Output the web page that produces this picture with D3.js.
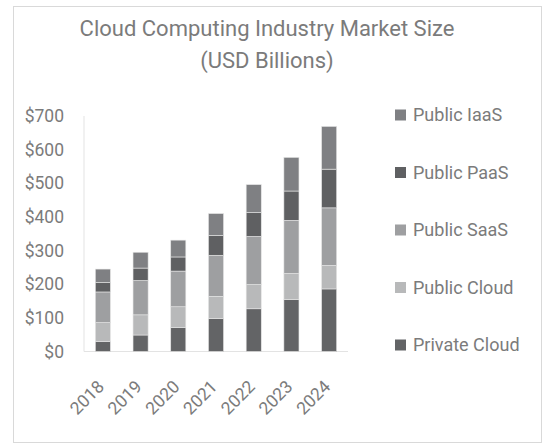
<!DOCTYPE html>
<html><head><meta charset="utf-8">
<script src="https://cdn.jsdelivr.net/npm/d3@7"></script>
<style>body{margin:0;background:#fff;}svg{display:block;font-family:Roboto,"Open Sans",sans-serif;}</style>
</head><body>
<svg id="c" width="543" height="445"></svg>
<script>
const years = ["2018","2019","2020","2021","2022","2023","2024"];
const seriesNames = ["Private Cloud","Public Cloud","Public SaaS","Public PaaS","Public IaaS"];
const privateCloud = [30, 49, 71, 98, 127, 155, 186];
const publicCloud  = [56, 60, 62, 66, 72, 77, 70];
const publicSaaS   = [91, 102, 106, 122, 143, 158, 171];
const publicPaaS   = [28, 37, 42, 59, 71, 87, 115];
const publicIaaS   = [40, 47, 50, 65, 83, 100, 127];
const yTicks = [0,100,200,300,400,500,600,700];
const colors = ["#636466","#b8b9ba","#9e9fa1","#5f6062","#7f8083"];

const seriesValues = [privateCloud, publicCloud, publicSaaS, publicPaaS, publicIaaS];
const rows = years.map((y,i)=>{const r={year:y};seriesNames.forEach((s,j)=>r[s]=seriesValues[j][i]);return r;});
const stacked = d3.stack().keys(seriesNames)(rows);

const svg = d3.select("#c");
const textColor = "#7b7b7b";
svg.append("rect").attr("x",13.5).attr("y",6.5).attr("width",528).attr("height",436)
  .attr("fill","#fff").attr("stroke","#d9d9d9").attr("stroke-width",1);

const x = d3.scaleBand().domain(years).range([84,348]).paddingInner(0.6).paddingOuter(0.3);
const y = d3.scaleLinear().domain([0,700]).range([351.5,116]);

// axis lines
svg.append("line").attr("x1",84).attr("x2",84).attr("y1",y(700)).attr("y2",y(0)).attr("stroke","#e3e3e3");
svg.append("line").attr("x1",84).attr("x2",348).attr("y1",y(0)).attr("y2",y(0)).attr("stroke","#e3e3e3");

const yAxis = svg.append("g").attr("transform","translate(84,0)")
  .call(d3.axisLeft(y).tickValues(yTicks).tickFormat(d=>"$"+d).tickSize(0).tickPadding(20));
yAxis.select(".domain").remove();
yAxis.selectAll("text").attr("fill",textColor).style("font-size","17.5px").style("font-family","Roboto, sans-serif");

const xAxis = svg.append("g").attr("transform",`translate(0,${y(0)})`)
  .call(d3.axisBottom(x).tickSize(0).tickPadding(0));
xAxis.select(".domain").remove();
xAxis.selectAll("text").attr("fill",textColor).style("font-size","17.5px").style("font-family","Roboto, sans-serif")
  .attr("text-anchor","end").attr("dy","0.35em")
  .attr("transform","translate(-2,32) rotate(-45)");

svg.append("g").selectAll("g").data(stacked).join("g")
  .attr("fill",(d,i)=>colors[i])
  .selectAll("rect").data(d=>d).join("rect")
  .attr("x",d=>x(d.data.year)).attr("width",x.bandwidth())
  .attr("y",d=>y(d[1])).attr("height",d=>y(d[0])-y(d[1]))
  .attr("stroke","#e6e6e6").attr("stroke-width",0.6);

// title
const title = svg.append("text").attr("x",267).attr("text-anchor","middle").attr("fill",textColor)
  .style("font-size","22px");
title.append("tspan").attr("x",267).attr("y",36).text("Cloud Computing Industry Market Size");
title.append("tspan").attr("x",267).attr("y",68).text("(USD Billions)");

// legend (top to bottom: IaaS..Private)
const legendOrder = seriesNames.map((s,i)=>({name:s,color:colors[i]})).reverse();
const ly = d3.scalePoint().domain(legendOrder.map(d=>d.name)).range([115,345]);
const lg = svg.append("g").selectAll("g").data(legendOrder).join("g")
  .attr("transform",d=>`translate(395,${ly(d.name)})`);
lg.append("rect").attr("x",0).attr("y",-5.5).attr("width",11).attr("height",11).attr("fill",d=>d.color);
lg.append("text").attr("x",18).attr("dy","0.35em").attr("fill",textColor).style("font-size","18px").text(d=>d.name);
</script>
</body></html>
